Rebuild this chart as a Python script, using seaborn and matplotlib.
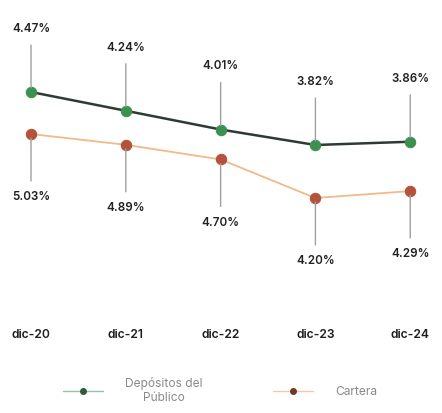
import matplotlib
matplotlib.use("Agg")
import matplotlib.pyplot as plt
import seaborn as sns
import pandas as pd
from matplotlib.lines import Line2D

sns.set_theme(style="white")
plt.rcParams["font.family"] = ["Inter", "DejaVu Sans"]

periods = ["dic-20", "dic-21", "dic-22", "dic-23", "dic-24"]
depositos = [4.47, 4.24, 4.01, 3.82, 3.86]
cartera = [5.03, 4.89, 4.70, 4.20, 4.29]
series_names = ["Depósitos del\nPúblico", "Cartera"]

green_line = "#2f3a33"
green_mark = "#3d9150"
orange_line = "#f2b98a"
orange_mark = "#b4533b"

df_dep = pd.DataFrame({"x": range(len(periods)), "v": depositos})
df_car = pd.DataFrame({"x": range(len(periods)), "v": cartera})

fig = plt.figure(figsize=(4.42, 4.13), dpi=100)
ax = fig.add_axes([0, 0.2203, 1, 0.7797])
ax2 = ax.twinx()

sns.lineplot(data=df_dep, x="x", y="v", ax=ax, color=green_line, lw=1.8,
             marker="o", markersize=7.5, markerfacecolor=green_mark,
             markeredgecolor=green_mark, zorder=3)
sns.lineplot(data=df_car, x="x", y="v", ax=ax2, color=orange_line, lw=1.3,
             marker="o", markersize=7.5, markerfacecolor=orange_mark,
             markeredgecolor=orange_mark, zorder=3)

ax.set_xlim(-0.327, 4.335)
ax.set_ylim(1.648, 5.599)
ax2.set_ylim(2.592, 6.768)

for a in (ax, ax2):
    for s in a.spines.values():
        s.set_visible(False)
    a.set_ylabel("")
    a.set_xlabel("")
    a.set_yticks([])
ax.set_xticks(range(len(periods)))
ax.set_xticklabels(periods, fontsize=8.7, color="#1e1e1e", fontweight="semibold")
ax.tick_params(axis="x", length=0, pad=5)

offset = 45.5
for i, v in enumerate(depositos):
    ax.annotate(f"{v:.2f}%", xy=(i, v), xytext=(0, offset), textcoords="offset points",
                ha="center", va="center", fontsize=8.4, color="#222222", fontweight="semibold",
                arrowprops=dict(arrowstyle="-", color="#a0a0a0", lw=1.0, shrinkA=5, shrinkB=3))
for i, v in enumerate(cartera):
    ax2.annotate(f"{v:.2f}%", xy=(i, v), xytext=(0, -offset), textcoords="offset points",
                 ha="center", va="center", fontsize=8.4, color="#222222", fontweight="semibold",
                 arrowprops=dict(arrowstyle="-", color="#a0a0a0", lw=1.0, shrinkA=5, shrinkB=3))

handles = [
    Line2D([], [], color="#8fc4a6", lw=1.0, marker="o", markersize=4,
           markerfacecolor="#2f5a3c", markeredgecolor="#2f5a3c"),
    Line2D([], [], color="#f3c9a8", lw=1.0, marker="o", markersize=4,
           markerfacecolor="#6b3a2a", markeredgecolor="#6b3a2a"),
]
leg = fig.legend(handles, series_names, loc="center", bbox_to_anchor=(0.4975, 0.055),
                 ncol=2, frameon=False, fontsize=8.6, labelcolor="#8a8a8a",
                 handlelength=3.4, columnspacing=5.9, handletextpad=1.8)
for t in leg.get_texts():
    t.set_multialignment("center")

fig.savefig("out.png", dpi=100)
